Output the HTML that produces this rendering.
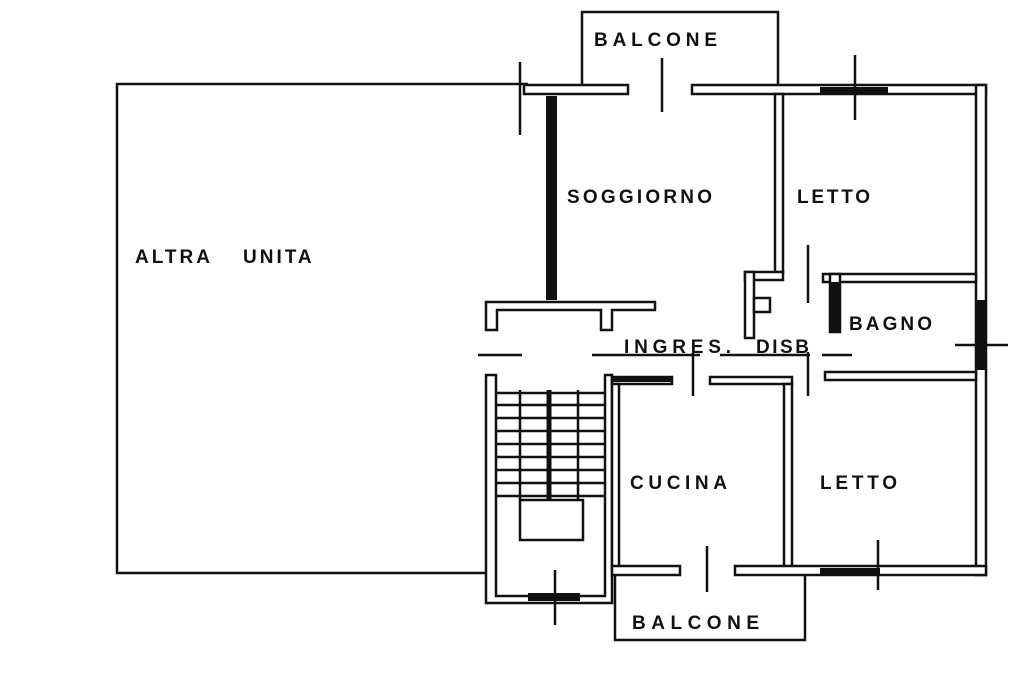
<!DOCTYPE html>
<html><head><meta charset="utf-8"><style>
html,body{margin:0;padding:0;background:#fff;width:1024px;height:682px;overflow:hidden}
svg{display:block}
text{font-family:"Liberation Sans",sans-serif;font-weight:bold;fill:#111;letter-spacing:3px}
</style></head><body>
<svg width="1024" height="682" viewBox="0 0 1024 682" xmlns="http://www.w3.org/2000/svg">
<g fill="none" stroke="#111" stroke-width="2.5">
<polyline points="528,84 117,84 117,573 486,573"/>
<polyline points="582,84 582,12 778,12 778,84"/>
<polyline points="615,575 615,640 805,640 805,575"/>
</g>
<g fill="#fff" stroke="#111" stroke-width="2.5">
<rect x="524" y="85" width="104" height="9"/>
<rect x="692" y="85" width="294" height="9"/>
<rect x="976" y="85" width="10" height="490"/>
<rect x="775" y="94" width="8" height="178"/>
<rect x="745" y="272" width="38" height="8"/>
<rect x="745" y="272" width="9" height="66"/>
<rect x="754" y="298" width="16" height="14"/>
<rect x="823" y="274" width="153" height="8"/>
<rect x="830" y="274" width="10" height="58"/>
<rect x="825" y="372" width="151" height="8"/>
<path d="M486,302 H655 V310 H612 V330 H601 V310 H497 V330 H486 Z"/>
<path d="M486,375 H496 V596 H605 V375 H612 V603 H486 Z"/>
<rect x="612" y="377" width="60" height="7"/>
<rect x="710" y="377" width="82" height="7"/>
<rect x="612" y="384" width="7" height="184"/>
<rect x="784" y="384" width="8" height="184"/>
<rect x="612" y="566" width="68" height="9"/>
<rect x="735" y="566" width="251" height="9"/>
</g>
<g fill="#111">
<rect x="546" y="96" width="11" height="204"/>
<rect x="831" y="282" width="8" height="50"/>
<rect x="820" y="568" width="60" height="6"/>
<rect x="820" y="87" width="68" height="6"/>
<rect x="528" y="593" width="52" height="8"/>
<rect x="977" y="300" width="8" height="70"/>
<rect x="612" y="377" width="60" height="5"/>
</g>
<g stroke="#111" stroke-width="2.5" fill="none">
<rect x="520" y="500" width="63" height="40"/>
<line x1="520" y1="390" x2="520" y2="500"/><line x1="549" y1="390" x2="549" y2="500" stroke-width="5"/><line x1="578" y1="390" x2="578" y2="500"/>
<line x1="497" y1="393" x2="605" y2="393"/><line x1="497" y1="405" x2="605" y2="405"/><line x1="497" y1="418" x2="605" y2="418"/><line x1="497" y1="431" x2="605" y2="431"/><line x1="497" y1="444" x2="605" y2="444"/><line x1="497" y1="457" x2="605" y2="457"/><line x1="497" y1="470" x2="605" y2="470"/><line x1="497" y1="483" x2="605" y2="483"/><line x1="497" y1="496" x2="605" y2="496"/>
<line x1="478" y1="355" x2="522" y2="355"/>
<line x1="592" y1="355" x2="700" y2="355"/>
<line x1="720" y1="355" x2="810" y2="355"/>
<line x1="822" y1="355" x2="852" y2="355"/>
<line x1="693" y1="352" x2="693" y2="396"/>
<line x1="808" y1="352" x2="808" y2="396"/>
<line x1="808" y1="245" x2="808" y2="303"/>
<line x1="520" y1="62" x2="520" y2="135"/>
<line x1="662" y1="58" x2="662" y2="112"/>
<line x1="855" y1="55" x2="855" y2="120"/>
<line x1="555" y1="570" x2="555" y2="625"/>
<line x1="707" y1="546" x2="707" y2="592"/>
<line x1="878" y1="540" x2="878" y2="590"/>
<line x1="955" y1="345" x2="1008" y2="345"/>
</g>
<g font-size="19">
<text x="594" y="46" textLength="126">BALCONE</text>
<text x="567" y="203" textLength="148">SOGGIORNO</text>
<text x="797" y="203" textLength="76">LETTO</text>
<text x="135" y="263">ALTRA</text>
<text x="243" y="263">UNITA</text>
<text x="849" y="330" textLength="86">BAGNO</text>
<text x="624" y="353" textLength="110">INGRES.</text>
<text x="756" y="353" textLength="56">DISB</text>
<text x="630" y="489" textLength="100">CUCINA</text>
<text x="820" y="489" textLength="80">LETTO</text>
<text x="632" y="629" textLength="130">BALCONE</text>
</g>
</svg>
</body></html>
